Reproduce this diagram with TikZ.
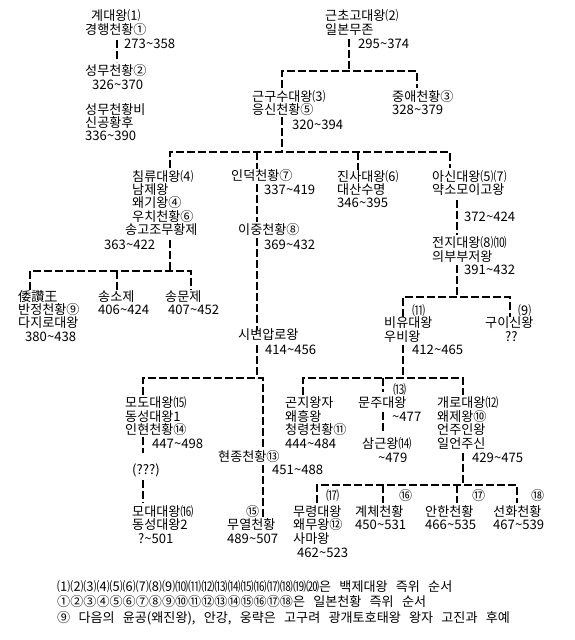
\documentclass[tikz,border=0pt]{standalone}
\usepackage{fontspec}
\setmainfont{Noto Sans CJK KR}[WordSpace=2.8]
\newcommand\T[4]{\node[lbl] (#1) at (#2,#3) {#4};}
\begin{document}
\begin{tikzpicture}[x=1pt,y=-1pt,
  lbl/.style={anchor=west,inner sep=0pt,font=\fontsize{13.1pt}{14pt}\selectfont},
  kin/.style={line width=2.6pt,dash pattern=on 8pt off 3pt,line cap=butt}]
\path[use as bounding box,fill=white] (0,0) rectangle (575,640);
% ---------- texts ----------
\T{a1}{91}{16}{계대왕⑴}
\T{a2}{85}{30}{경행천황①}
\T{a3}{124}{44}{273\textasciitilde 358}
\T{b1}{85}{71}{성무천황②}
\T{b2}{92}{85}{326\textasciitilde 370}
\T{c1}{85}{110}{성무천황비}
\T{c2}{85}{123}{신공황후}
\T{c3}{85}{136}{336\textasciitilde 390}
\T{d1}{325}{16}{근초고대왕⑵}
\T{d2}{325}{30}{일본무존}
\T{d3}{358}{44}{295\textasciitilde 374}
\T{e1}{252}{97}{근구수대왕⑶}
\T{e2}{252}{110}{응신천황⑤}
\T{e3}{292}{125}{320\textasciitilde 394}
\T{f1}{392}{97}{중애천황③}
\T{f2}{392}{110}{328\textasciitilde 379}
\T{g1}{132}{177}{침류대왕⑷}
\T{g2}{132}{190}{남제왕}
\T{g3}{132}{203}{왜기왕④}
\T{g4}{132}{217}{우치천황⑥}
\T{g5}{125}{230}{송고조무황제}
\T{g6}{104}{245}{363\textasciitilde 422}
\T{h1}{231}{176}{인덕천황⑦}
\T{h2}{264}{190}{337\textasciitilde 419}
\T{i1}{238}{230}{이중천황⑧}
\T{i2}{264}{245}{369\textasciitilde 432}
\T{j1}{337}{177}{진사대왕⑹}
\T{j2}{337}{190}{대산수명}
\T{j3}{337}{203}{346\textasciitilde 395}
\T{k1}{432}{177}{아신대왕⑸⑺}
\T{k2}{432}{190}{약소모이고왕}
\T{k3}{464}{217}{372\textasciitilde 424}
\T{l1}{432}{243}{전지대왕⑻⑽}
\T{l2}{432}{257}{의부부저왕}
\T{l3}{464}{270}{391\textasciitilde 432}
\T{m1}{18}{297}{倭讚王}
\T{m2}{18}{310}{반정천황⑨}
\T{m3}{18}{323}{다지로대왕}
\T{m4}{25}{337}{380\textasciitilde 438}
\T{n1}{98}{297}{송소제}
\T{n2}{98}{310}{406\textasciitilde 424}
\T{o1}{165}{297}{송문제}
\T{o2}{168}{310}{407\textasciitilde 452}
\T{p1}{238}{335}{시변압로왕}
\T{p2}{265}{350}{414\textasciitilde 456}
\T{q0}{412}{311}{⑾}
\T{q1}{384}{323}{비유대왕}
\T{q2}{384}{337}{우비왕}
\T{q3}{412}{350}{412\textasciitilde 465}
\T{r0}{518}{311}{⑼}
\T{r1}{485}{323}{구이신왕}
\T{r2}{505}{337}{??}
\T{s1}{125}{403}{모도대왕⒂}
\T{s2}{125}{417}{동성대왕1}
\T{s3}{125}{430}{인현천황⑭}
\T{s4}{152}{444}{447\textasciitilde 498}
\T{s5}{132}{470}{(???)}
\T{t1}{218}{457}{현종천황⑬}
\T{t2}{272}{470}{451\textasciitilde 488}
\T{u1}{285}{403}{곤지왕자}
\T{u2}{285}{417}{왜흥왕}
\T{u3}{285}{430}{청령천황⑪}
\T{u4}{285}{444}{444\textasciitilde 484}
\T{v0}{393}{390}{⒀}
\T{v1}{358}{403}{문주대왕}
\T{v2}{392}{417}{\textasciitilde 477}
\T{v3}{362}{444}{삼근왕⒁}
\T{v4}{378}{458}{\textasciitilde 479}
\T{w1}{437}{403}{개로대왕⑿}
\T{w2}{437}{417}{왜제왕⑩}
\T{w3}{437}{430}{언주인왕}
\T{w4}{437}{444}{일언주신}
\T{w5}{472}{458}{429\textasciitilde 475}
\T{x1}{132}{512}{모대대왕⒃}
\T{x2}{132}{525}{동성대왕2}
\T{x3}{138}{539}{?\textasciitilde 501}
\T{y0}{246}{512}{⑮}
\T{y1}{227}{525}{무열천황}
\T{y2}{227}{539}{489\textasciitilde 507}
\T{z0}{326}{496}{⒄}
\T{z1}{293}{512}{무령대왕}
\T{z2}{293}{525}{왜무왕⑫}
\T{z3}{293}{539}{사마왕}
\T{z4}{297}{553}{462\textasciitilde 523}
\T{aa0}{399}{496}{⑯}
\T{aa1}{355}{512}{계체천황}
\T{aa2}{355}{525}{450\textasciitilde 531}
\T{bb0}{472}{496}{⑰}
\T{bb1}{425}{512}{안한천황}
\T{bb2}{425}{525}{466\textasciitilde 535}
\T{cc0}{531}{496}{⑱}
\T{cc1}{493}{512}{선화천황}
\T{cc2}{493}{525}{467\textasciitilde 539}
\T{lg1}{57}{587}{⑴⑵⑶⑷⑸⑹⑺⑻⑼⑽⑾⑿⒀⒁⒂⒃⒄⒅⒆⒇은 백제대왕 즉위 순서}
\T{lg2}{57}{602}{①②③④⑤⑥⑦⑧⑨⑩⑪⑫⑬⑭⑮⑯⑰⑱은 일본천황 즉위 순서}
\T{lg3}{57}{618}{⑨ 다음의 윤공(왜진왕), 안강, 웅략은 고구려 광개토호태왕 왕자 고진과 후예}
% ---------- connector points ----------
\coordinate (A1) at (117,40);  \coordinate (A2) at (117,62);
\coordinate (B1) at (349,39);  \coordinate (B2) at (349,71);
\coordinate (B3) at (282,88);  \coordinate (B4) at (282,71);
\coordinate (B5) at (417,71);  \coordinate (B6) at (417,88);
\coordinate (C1) at (282,117); \coordinate (C2) at (282,152);
\coordinate (C3) at (170,168); \coordinate (C4) at (170,152);
\coordinate (C5) at (450,152); \coordinate (C6) at (450,168);
\coordinate (C7) at (257,152); \coordinate (C8) at (257,169);
\coordinate (C9) at (358,152); \coordinate (C10) at (358,170);
\coordinate (D1) at (257,184); \coordinate (D2) at (257,222);
\coordinate (D3) at (257,238); \coordinate (D4) at (257,330);
\coordinate (E1) at (170,240); \coordinate (E2) at (170,271);
\coordinate (E3) at (30,290);  \coordinate (E4) at (30,271);
\coordinate (E5) at (191,271); \coordinate (E6) at (191,290);
\coordinate (E7) at (117,271); \coordinate (E8) at (117,290);
\coordinate (F1) at (457,200); \coordinate (F2) at (457,235);
\coordinate (F3) at (457,265); \coordinate (F4) at (457,297);
\coordinate (F5) at (403,317); \coordinate (F6) at (403,297);
\coordinate (F7) at (510,297); \coordinate (F8) at (510,317);
\coordinate (G1) at (257,345); \coordinate (G2) at (257,378);
\coordinate (G3) at (143,395); \coordinate (G4) at (143,378);
\coordinate (G5) at (263,378); \coordinate (G6) at (263,447);
\coordinate (G7) at (263,465); \coordinate (G8) at (263,517);
\coordinate (H1) at (143,437); \coordinate (H2) at (143,453);
\coordinate (H3) at (143,480); \coordinate (H4) at (143,503);
\coordinate (J1) at (403,345); \coordinate (J2) at (403,378);
\coordinate (J3) at (303,395); \coordinate (J4) at (303,378);
\coordinate (J5) at (463,378); \coordinate (J6) at (463,395);
\coordinate (J7) at (383,378); \coordinate (J8) at (383,392);
\coordinate (K1) at (383,412); \coordinate (K2) at (383,433);
\coordinate (L1) at (463,453); \coordinate (L2) at (463,485);
\coordinate (L3) at (317,503); \coordinate (L4) at (317,485);
\coordinate (L5) at (517,485); \coordinate (L6) at (517,503);
\coordinate (L7) at (383,485); \coordinate (L8) at (383,503);
\coordinate (L9) at (457,485); \coordinate (L10) at (457,503);
% ---------- connectors ----------
\draw[kin] (A1) -- (A2);
\draw[kin] (B1) -- (B2);
\draw[kin] (B3) -- (B4) -- (B5) -- (B6);
\draw[kin] (C1) -- (C2);
\draw[kin] (C3) -- (C4) -- (C5) -- (C6);
\draw[kin] (C7) -- (C8);
\draw[kin] (C9) -- (C10);
\draw[kin] (D1) -- (D2);
\draw[kin] (D3) -- (D4);
\draw[kin] (E1) -- (E2);
\draw[kin] (E3) -- (E4) -- (E5) -- (E6);
\draw[kin] (E7) -- (E8);
\draw[kin] (F1) -- (F2);
\draw[kin] (F3) -- (F4);
\draw[kin] (F5) -- (F6) -- (F7) -- (F8);
\draw[kin] (G1) -- (G2);
\draw[kin] (G3) -- (G4) -- (G5) -- (G6);
\draw[kin] (G7) -- (G8);
\draw[kin] (H1) -- (H2);
\draw[kin] (H3) -- (H4);
\draw[kin] (J1) -- (J2);
\draw[kin] (J3) -- (J4) -- (J5) -- (J6);
\draw[kin] (J7) -- (J8);
\draw[kin] (K1) -- (K2);
\draw[kin] (L1) -- (L2);
\draw[kin] (L3) -- (L4) -- (L5) -- (L6);
\draw[kin] (L7) -- (L8);
\draw[kin] (L9) -- (L10);
\end{tikzpicture}
\end{document}
